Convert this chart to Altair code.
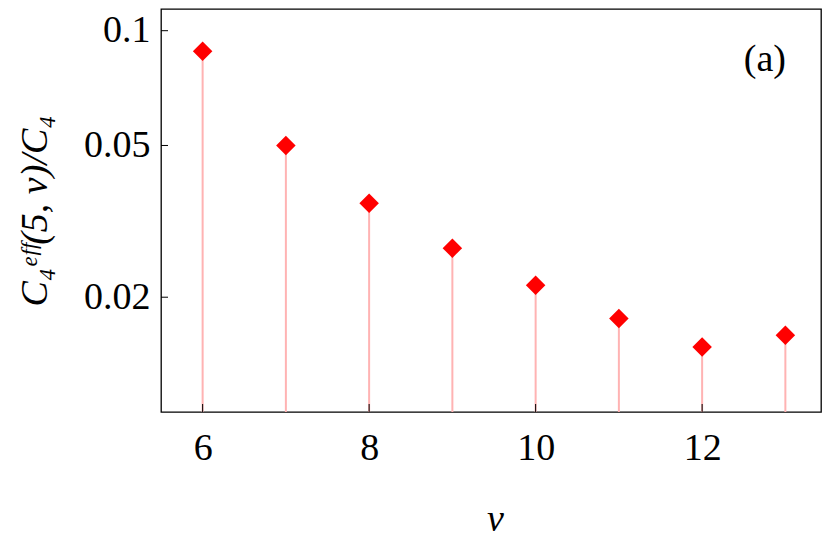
import altair as alt
import pandas as pd

# data
v_vals = [6, 7, 8, 9, 10, 11, 12, 13]
ratio_vals = [0.0883, 0.0500, 0.0353, 0.0269, 0.0215, 0.0176, 0.0148, 0.0159]
x_ticks = [6, 8, 10, 12]
y_ticks = [0.02, 0.05, 0.1]
panel_label = "(a)"

W, H = 660, 403
FONT = "Liberation Serif"

df = pd.DataFrame({"v": v_vals, "r": ratio_vals, "base": [0.01] * len(v_vals)})
xt = pd.DataFrame({"v": x_ticks})
yt = pd.DataFrame({"r": y_ticks})

xscale = alt.Scale(domain=[5.5, 5.5 + W / 83.25], nice=False, zero=False)
yscale = alt.Scale(type="log", domain=[0.01, 0.114], nice=False, clamp=True)

xaxis = alt.Axis(values=x_ticks, format="d", title="v", titleFontStyle="italic",
                 titleFont=FONT, titleFontSize=38, titleFontWeight="normal",
                 titleBaseline="alphabetic", titleY=118, titleX=334,
                 labelFont=FONT, labelFontSize=38, labelBaseline="alphabetic",
                 labelPadding=47, ticks=False, tickSize=0, domain=False, grid=False,
                 labelColor="black", titleColor="black")
yaxis = alt.Axis(values=y_ticks, format="~g", title="C₄ᵉᶠᶠ(5, v)/C₄",
                 titleFont=FONT, titleFontSize=38, titleFontWeight="normal",
                 titleFontStyle="italic",
                 titleAngle=270, titleX=-126, titleY=H / 2, titleAlign="center",
                 titleBaseline="middle",
                 labelFont=FONT, labelFontSize=38, labelBaseline="alphabetic",
                 labelOffset=11, labelPadding=11, ticks=False, tickSize=0,
                 domain=False, grid=False, labelColor="black", titleColor="black")

X = alt.X("v:Q", scale=xscale, axis=xaxis)
Y = alt.Y("r:Q", scale=yscale, axis=yaxis)

stems = alt.Chart(df).mark_rule(color="#ffb3b3", strokeWidth=2).encode(
    x=X, y=Y, y2="base:Q",
)

xtick_layer = alt.Chart(xt).mark_rule(color="black", strokeWidth=1).encode(
    x=X, y=alt.value(H), y2=alt.value(H - 8),
)

ytick_layer = alt.Chart(yt).mark_rule(color="black", strokeWidth=1).encode(
    y=Y, x=alt.value(0), x2=alt.value(7),
)

points = alt.Chart(df).mark_point(shape="diamond", filled=True, size=380,
                                  color="#ff0000", opacity=1).encode(x=X, y=Y)

label = alt.Chart(pd.DataFrame({"t": [panel_label]})).mark_text(
    font=FONT, fontSize=38, align="right", baseline="alphabetic", color="black"
).encode(text="t:N", x=alt.value(625), y=alt.value(62))

chart = alt.layer(stems, xtick_layer, ytick_layer, points, label).properties(
    width=W, height=H,
    autosize=alt.AutoSizeParams(type="none"),
    padding={"left": 153, "top": 1, "right": 1, "bottom": 128},
    background="white",
).configure_view(stroke="black", strokeWidth=1.3)

chart.save("out.html", embed_options={"renderer": "svg", "actions": False})
